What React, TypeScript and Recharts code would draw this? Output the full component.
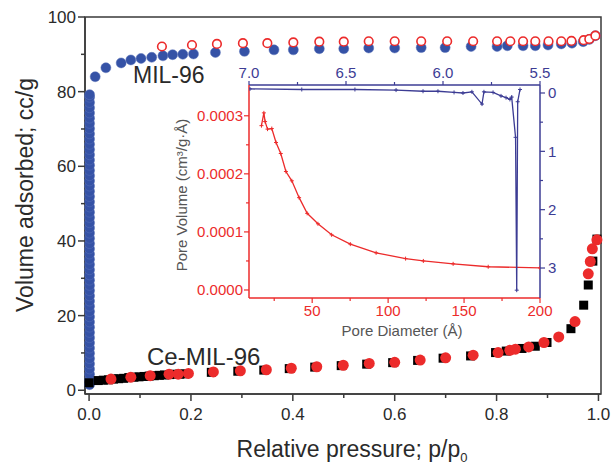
import React from "react";
import {
  ScatterChart,
  Scatter,
  XAxis,
  YAxis,
  ReferenceArea,
  ComposedChart,
  Line,
} from "recharts";

const FONT = "'Liberation Sans', Arial, Helvetica, sans-serif";
const AXIS = "#3a3a3a";
const TXT = "#2a2a2a";
const RED = "#ec2b2b";
const BLUE = "#3552a6";
const NAVY = "#3c3c94";

// main isotherms: [p/p0, volume]
const mil96Adsorption: [number, number][] = [
  [0.001, 1.5], [0.001, 2.9], [0.001, 4.3], [0.001, 5.7], [0.001, 7.1],
  [0.001, 8.5], [0.001, 9.9], [0.001, 11.3], [0.001, 12.7], [0.001, 14.1],
  [0.001, 15.5], [0.001, 16.9], [0.001, 18.3], [0.001, 19.7], [0.001, 21.1],
  [0.001, 22.5], [0.001, 23.9], [0.001, 25.3], [0.001, 26.7], [0.001, 28.1],
  [0.001, 29.5], [0.001, 30.9], [0.001, 32.3], [0.001, 33.7], [0.001, 35.1],
  [0.001, 36.5], [0.001, 37.9], [0.001, 39.3], [0.001, 40.7], [0.001, 42.1],
  [0.001, 43.5], [0.001, 44.9], [0.001, 46.3], [0.001, 47.7], [0.001, 49.1],
  [0.001, 50.5], [0.001, 51.9], [0.001, 53.3], [0.001, 54.7], [0.001, 56.1],
  [0.001, 57.5], [0.001, 58.9], [0.001, 60.3], [0.001, 61.7], [0.001, 63.1],
  [0.001, 64.5], [0.001, 65.9], [0.001, 67.3], [0.001, 68.7], [0.001, 70.1],
  [0.001, 71.5], [0.001, 72.9], [0.001, 74.3], [0.001, 75.7], [0.001, 77.1],
  [0.001, 78.5], [0.001, 79.2],
  [0.012, 84.0], [0.033, 86.4], [0.063, 87.7], [0.082, 88.5], [0.102, 88.9],
  [0.123, 89.2], [0.145, 89.6], [0.164, 89.9], [0.184, 90.0], [0.205, 90.1],
  [0.248, 90.5], [0.305, 90.8], [0.363, 91.2], [0.401, 91.2], [0.452, 91.5],
  [0.5, 91.5], [0.549, 91.7], [0.6, 91.7], [0.652, 91.8], [0.699, 91.8],
  [0.75, 92.1], [0.801, 92.1], [0.821, 92.3], [0.852, 92.3], [0.876, 92.3],
  [0.901, 92.5], [0.927, 92.8], [0.948, 93.0], [0.97, 93.4], [0.982, 94.0],
  [0.994, 95.0],
];

const mil96Desorption: [number, number][] = [
  [0.143, 92.1], [0.202, 92.5], [0.251, 92.8], [0.302, 93.0], [0.35, 93.0],
  [0.401, 93.2], [0.452, 93.4], [0.5, 93.4], [0.549, 93.5], [0.6, 93.5],
  [0.652, 93.5], [0.703, 93.5], [0.754, 93.5], [0.801, 93.5], [0.827, 93.5],
  [0.852, 93.5], [0.876, 93.5], [0.902, 93.5], [0.927, 93.5], [0.947, 93.6],
  [0.971, 93.8], [0.982, 94.1], [0.994, 95.0],
];

const ceAdsorption: [number, number][] = [
  [0.0, 2.0], [0.018, 2.6], [0.028, 2.7], [0.038, 2.8], [0.048, 3.0],
  [0.058, 3.1], [0.068, 3.2], [0.078, 3.4], [0.088, 3.5], [0.098, 3.6],
  [0.108, 3.7], [0.118, 3.8], [0.128, 3.9], [0.138, 4.0], [0.148, 4.1],
  [0.158, 4.2], [0.168, 4.3], [0.178, 4.3], [0.188, 4.4], [0.24, 4.8],
  [0.292, 5.1], [0.343, 5.4], [0.393, 5.8], [0.443, 6.2], [0.495, 6.6],
  [0.545, 7.0], [0.596, 7.4], [0.645, 8.0], [0.695, 8.6], [0.749, 9.2],
  [0.798, 10.1], [0.819, 10.5], [0.85, 11.2], [0.876, 11.8], [0.899, 12.8],
  [0.946, 16.5], [0.971, 22.8], [0.98, 28.2], [0.989, 34.6], [0.997, 40.5],
];

const ceDesorption: [number, number][] = [
  [0.043, 3.0], [0.082, 3.5], [0.12, 3.9], [0.157, 4.3], [0.175, 4.3],
  [0.195, 4.5], [0.244, 4.9], [0.297, 5.2], [0.348, 5.5], [0.397, 5.9],
  [0.447, 6.3], [0.499, 6.7], [0.55, 7.2], [0.6, 7.5], [0.65, 8.1],
  [0.7, 8.7], [0.754, 9.4], [0.803, 10.1], [0.826, 10.7], [0.837, 11.0],
  [0.863, 11.6], [0.893, 12.8], [0.922, 14.3], [0.954, 18.4], [0.98, 31.2],
  [0.984, 34.5], [0.988, 37.9], [0.997, 40.3],
];

const pressureTicks = [0, 0.1, 0.2, 0.3, 0.4, 0.5, 0.6, 0.7, 0.8, 0.9, 1.0];
const volumeTicks = [0, 10, 20, 30, 40, 50, 60, 70, 80, 90, 100];

// inset: pore size distribution, [pore diameter Å, pore volume]
const poreDistribution: [number, number][] = [
  [16.6, 0.000283], [18.2, 0.000305], [19.0, 0.00029], [20.6, 0.000277],
  [23.4, 0.000278], [26.2, 0.000254], [29.3, 0.000235], [32.7, 0.000204],
  [36.6, 0.000188], [41.4, 0.000159], [46.7, 0.000132], [53.8, 0.000114],
  [62.8, 0.000095], [75.1, 0.000079], [92.1, 0.000064], [111.5, 0.000054],
  [123.2, 0.00005], [142.8, 0.000045], [165.9, 0.00004], [200, 0.000038],
];

// inset: second curve on top / right axes
const secondCurve: [number, number][] = [
  [6.995, -0.07], [6.728, -0.06], [6.454, -0.06], [6.242, -0.05],
  [6.103, -0.03], [6.026, -0.03], [5.943, -0.01], [5.897, 0.0],
  [5.851, -0.02], [5.799, 0.19], [5.789, -0.02], [5.742, -0.01],
  [5.701, 0.05], [5.675, 0.08], [5.655, 0.11], [5.646, 0.07],
  [5.626, 0.76], [5.62, 3.38], [5.615, 0.15], [5.603, -0.06],
];

const diameterTicks = [25, 50, 75, 100, 125, 150, 175, 200];
const poreVolumeTicks = [0, 0.00005, 0.0001, 0.00015, 0.0002, 0.00025, 0.0003];
const topTicks = [5.5, 5.75, 6.0, 6.25, 6.5, 6.75, 7.0];
const rightTicks = [0, 0.5, 1, 1.5, 2, 2.5, 3];

const toPts = (arr: [number, number][]) => arr.map(([x, y]) => ({ x, y }));

const near = (v: number, step: number) =>
  Math.abs(v / step - Math.round(v / step)) < 1e-6;

function MainXTick({ x, y, payload }: any) {
  const v = payload.value;
  const major = near(v, 0.2);
  return (
    <g>
      <line x1={x} x2={x} y1={y} y2={y + (major ? 7 : 4)} stroke={AXIS} strokeWidth={1.5} />
      {major && (
        <text x={x} y={y + 26} textAnchor="middle" fontSize={17} fill={TXT} fontFamily={FONT}>
          {v.toFixed(1)}
        </text>
      )}
    </g>
  );
}

function MainYTick({ x, y, payload }: any) {
  const v = payload.value;
  const major = near(v, 20);
  return (
    <g>
      <line x1={x - (major ? 7 : 4)} x2={x} y1={y} y2={y} stroke={AXIS} strokeWidth={1.5} />
      {major && (
        <text x={x - 9} y={y} dy="0.36em" textAnchor="end" fontSize={17} fill={TXT} fontFamily={FONT}>
          {v}
        </text>
      )}
    </g>
  );
}

function InsetBottomTick({ x, y, payload }: any) {
  const v = payload.value;
  const major = near(v, 50);
  return (
    <g>
      <line x1={x} x2={x} y1={y} y2={y + (major ? 5 : 3)} stroke={RED} strokeWidth={1.2} />
      {major && (
        <text x={x} y={y + 18} textAnchor="middle" fontSize={15} fill={RED} fontFamily={FONT}>
          {v}
        </text>
      )}
    </g>
  );
}

function InsetLeftTick({ x, y, payload }: any) {
  const v = payload.value;
  const major = near(v, 0.0001);
  return (
    <g>
      <line x1={x - (major ? 5 : 3)} x2={x} y1={y} y2={y} stroke={RED} strokeWidth={1.2} />
      {major && (
        <text x={x - 6} y={y} dy="0.36em" textAnchor="end" fontSize={15} fill={RED} fontFamily={FONT}>
          {v.toFixed(4)}
        </text>
      )}
    </g>
  );
}

function InsetTopTick({ x, y, payload }: any) {
  const v = payload.value;
  const major = near(v, 0.5);
  return (
    <g>
      <line x1={x} x2={x} y1={y} y2={y - (major ? 4 : 3)} stroke={NAVY} strokeWidth={1.2} />
      {major && (
        <text x={x} y={y - 7} textAnchor="middle" fontSize={15} fill={NAVY} fontFamily={FONT}>
          {v.toFixed(1)}
        </text>
      )}
    </g>
  );
}

function InsetRightTick({ x, y, payload }: any) {
  const v = payload.value;
  const major = near(v, 1);
  return (
    <g>
      <line x1={x} x2={x + (major ? 5 : 3)} y1={y} y2={y} stroke={NAVY} strokeWidth={1.2} />
      {major && (
        <text x={x + 8} y={y} dy="0.36em" textAnchor="start" fontSize={15} fill={NAVY} fontFamily={FONT}>
          {v}
        </text>
      )}
    </g>
  );
}

const blueDot = (p: any) => (
  <circle cx={p.cx} cy={p.cy} r={5} fill={BLUE} stroke="#5a73b8" strokeWidth={0.5} />
);
const openRedDot = (p: any) => (
  <circle cx={p.cx} cy={p.cy} r={4.3} fill="#fff" stroke={RED} strokeWidth={1.6} />
);
const blackSquare = (p: any) => (
  <rect x={p.cx - 4.5} y={p.cy - 4.5} width={9} height={9} fill="#000" />
);
const redDot = (p: any) => <circle cx={p.cx} cy={p.cy} r={5.5} fill={RED} />;

const cross = (color: string) => (p: any) => (
  <path
    key={`c-${p.index}`}
    d={`M${p.cx - 2},${p.cy}h4M${p.cx},${p.cy - 2}v4`}
    stroke={color}
    strokeWidth={1}
  />
);

function MainChart() {
  return (
    <ScatterChart
      width={614}
      height={464}
      margin={{ top: 17, right: 13, bottom: 0, left: 0 }}
    >
      <XAxis
        type="number"
        dataKey="x"
        domain={[-0.008, 1.005]}
        ticks={pressureTicks}
        interval={0}
        height={70}
        tickSize={0}
        tickMargin={0}
        tickLine={false}
        axisLine={{ stroke: AXIS, strokeWidth: 1.5 }}
        tick={<MainXTick />}
        label={() => (
          <text x={352} y={457} textAnchor="middle" fontSize={23} fill={TXT} fontFamily={FONT}>
            Relative pressure; p/p
            <tspan dy={5} fontSize={13}>0</tspan>
          </text>
        )}
      />
      <YAxis
        type="number"
        dataKey="y"
        domain={[-1, 100]}
        ticks={volumeTicks}
        interval={0}
        width={85}
        tickSize={0}
        tickMargin={0}
        tickLine={false}
        axisLine={{ stroke: AXIS, strokeWidth: 1.5 }}
        tick={<MainYTick />}
        label={() => (
          <g>
            <text
              x={33}
              y={195}
              transform="rotate(-90 33 195)"
              textAnchor="middle"
              fontSize={23}
              fill={TXT}
              fontFamily={FONT}
            >
              Volume adsorbed; cc/g
            </text>
            <text x={133} y={83} fontSize={23} fill={TXT} fontFamily={FONT}>
              MIL-96
            </text>
            <text x={147} y={365} fontSize={24} fill={TXT} fontFamily={FONT}>
              Ce-MIL-96
            </text>
          </g>
        )}
      />
      <ReferenceArea
        x1={-0.008}
        x2={1.005}
        y1={-1}
        y2={100}
        fill="none"
        stroke={AXIS}
        strokeWidth={1.5}
      />
      <Scatter data={toPts(mil96Adsorption)} shape={blueDot} isAnimationActive={false} />
      <Scatter data={toPts(mil96Desorption)} shape={openRedDot} isAnimationActive={false} />
      <Scatter data={toPts(ceAdsorption)} shape={blackSquare} isAnimationActive={false} />
      <Scatter data={toPts(ceDesorption)} shape={redDot} isAnimationActive={false} />
    </ScatterChart>
  );
}

function InsetChart() {
  return (
    <ComposedChart width={415} height={310} margin={{ top: 0, right: 0, bottom: 0, left: 0 }}>
      <XAxis
        xAxisId="bottom"
        type="number"
        dataKey="x"
        domain={[8.4, 200]}
        allowDataOverflow
        ticks={diameterTicks}
        interval={0}
        height={52}
        tickSize={0}
        tickMargin={0}
        tickLine={false}
        axisLine={{ stroke: RED, strokeWidth: 1.5 }}
        tick={<InsetBottomTick />}
        label={() => (
          <text x={237} y={296} textAnchor="middle" fontSize={15} fill="#555" fontFamily={FONT}>
            Pore Diameter (Å)
          </text>
        )}
      />
      <XAxis
        xAxisId="top"
        orientation="top"
        type="number"
        dataKey="x"
        domain={[5.5, 7.0]}
        reversed
        allowDataOverflow
        ticks={topTicks}
        interval={0}
        height={45}
        tickSize={0}
        tickMargin={0}
        tickLine={false}
        axisLine={{ stroke: NAVY, strokeWidth: 1.5 }}
        tick={<InsetTopTick />}
      />
      <YAxis
        yAxisId="left"
        type="number"
        domain={[-0.0000138, 0.000353]}
        allowDataOverflow
        ticks={poreVolumeTicks}
        interval={0}
        width={84}
        tickSize={0}
        tickMargin={0}
        tickLine={false}
        axisLine={{ stroke: RED, strokeWidth: 1.5 }}
        tick={<InsetLeftTick />}
        label={() => (
          <text
            x={22}
            y={155}
            transform="rotate(-90 22 155)"
            textAnchor="middle"
            fontSize={15}
            fill="#555"
            fontFamily={FONT}
          >
            Pore Volume (cm³/g·Å)
          </text>
        )}
      />
      <YAxis
        yAxisId="right"
        orientation="right"
        type="number"
        domain={[-0.137, 3.514]}
        reversed
        allowDataOverflow
        ticks={rightTicks}
        interval={0}
        width={40}
        tickSize={0}
        tickMargin={0}
        tickLine={false}
        axisLine={{ stroke: NAVY, strokeWidth: 1.5 }}
        tick={<InsetRightTick />}
      />
      <Line
        xAxisId="bottom"
        yAxisId="left"
        data={toPts(poreDistribution)}
        dataKey="y"
        type="linear"
        stroke={RED}
        strokeWidth={1.3}
        dot={cross(RED)}
        isAnimationActive={false}
      />
      <Line
        xAxisId="top"
        yAxisId="right"
        data={toPts(secondCurve)}
        dataKey="y"
        type="linear"
        stroke={NAVY}
        strokeWidth={1.3}
        dot={cross(NAVY)}
        isAnimationActive={false}
      />
    </ComposedChart>
  );
}

export default function App() {
  return (
    <div
      style={{
        position: "absolute",
        left: 0,
        top: 0,
        width: 614,
        height: 464,
        background: "#fff",
        fontFamily: FONT,
      }}
    >
      <div style={{ position: "absolute", left: 0, top: 0 }}>
        <MainChart />
      </div>
      <div style={{ position: "absolute", left: 165, top: 40 }}>
        <InsetChart />
      </div>
    </div>
  );
}
